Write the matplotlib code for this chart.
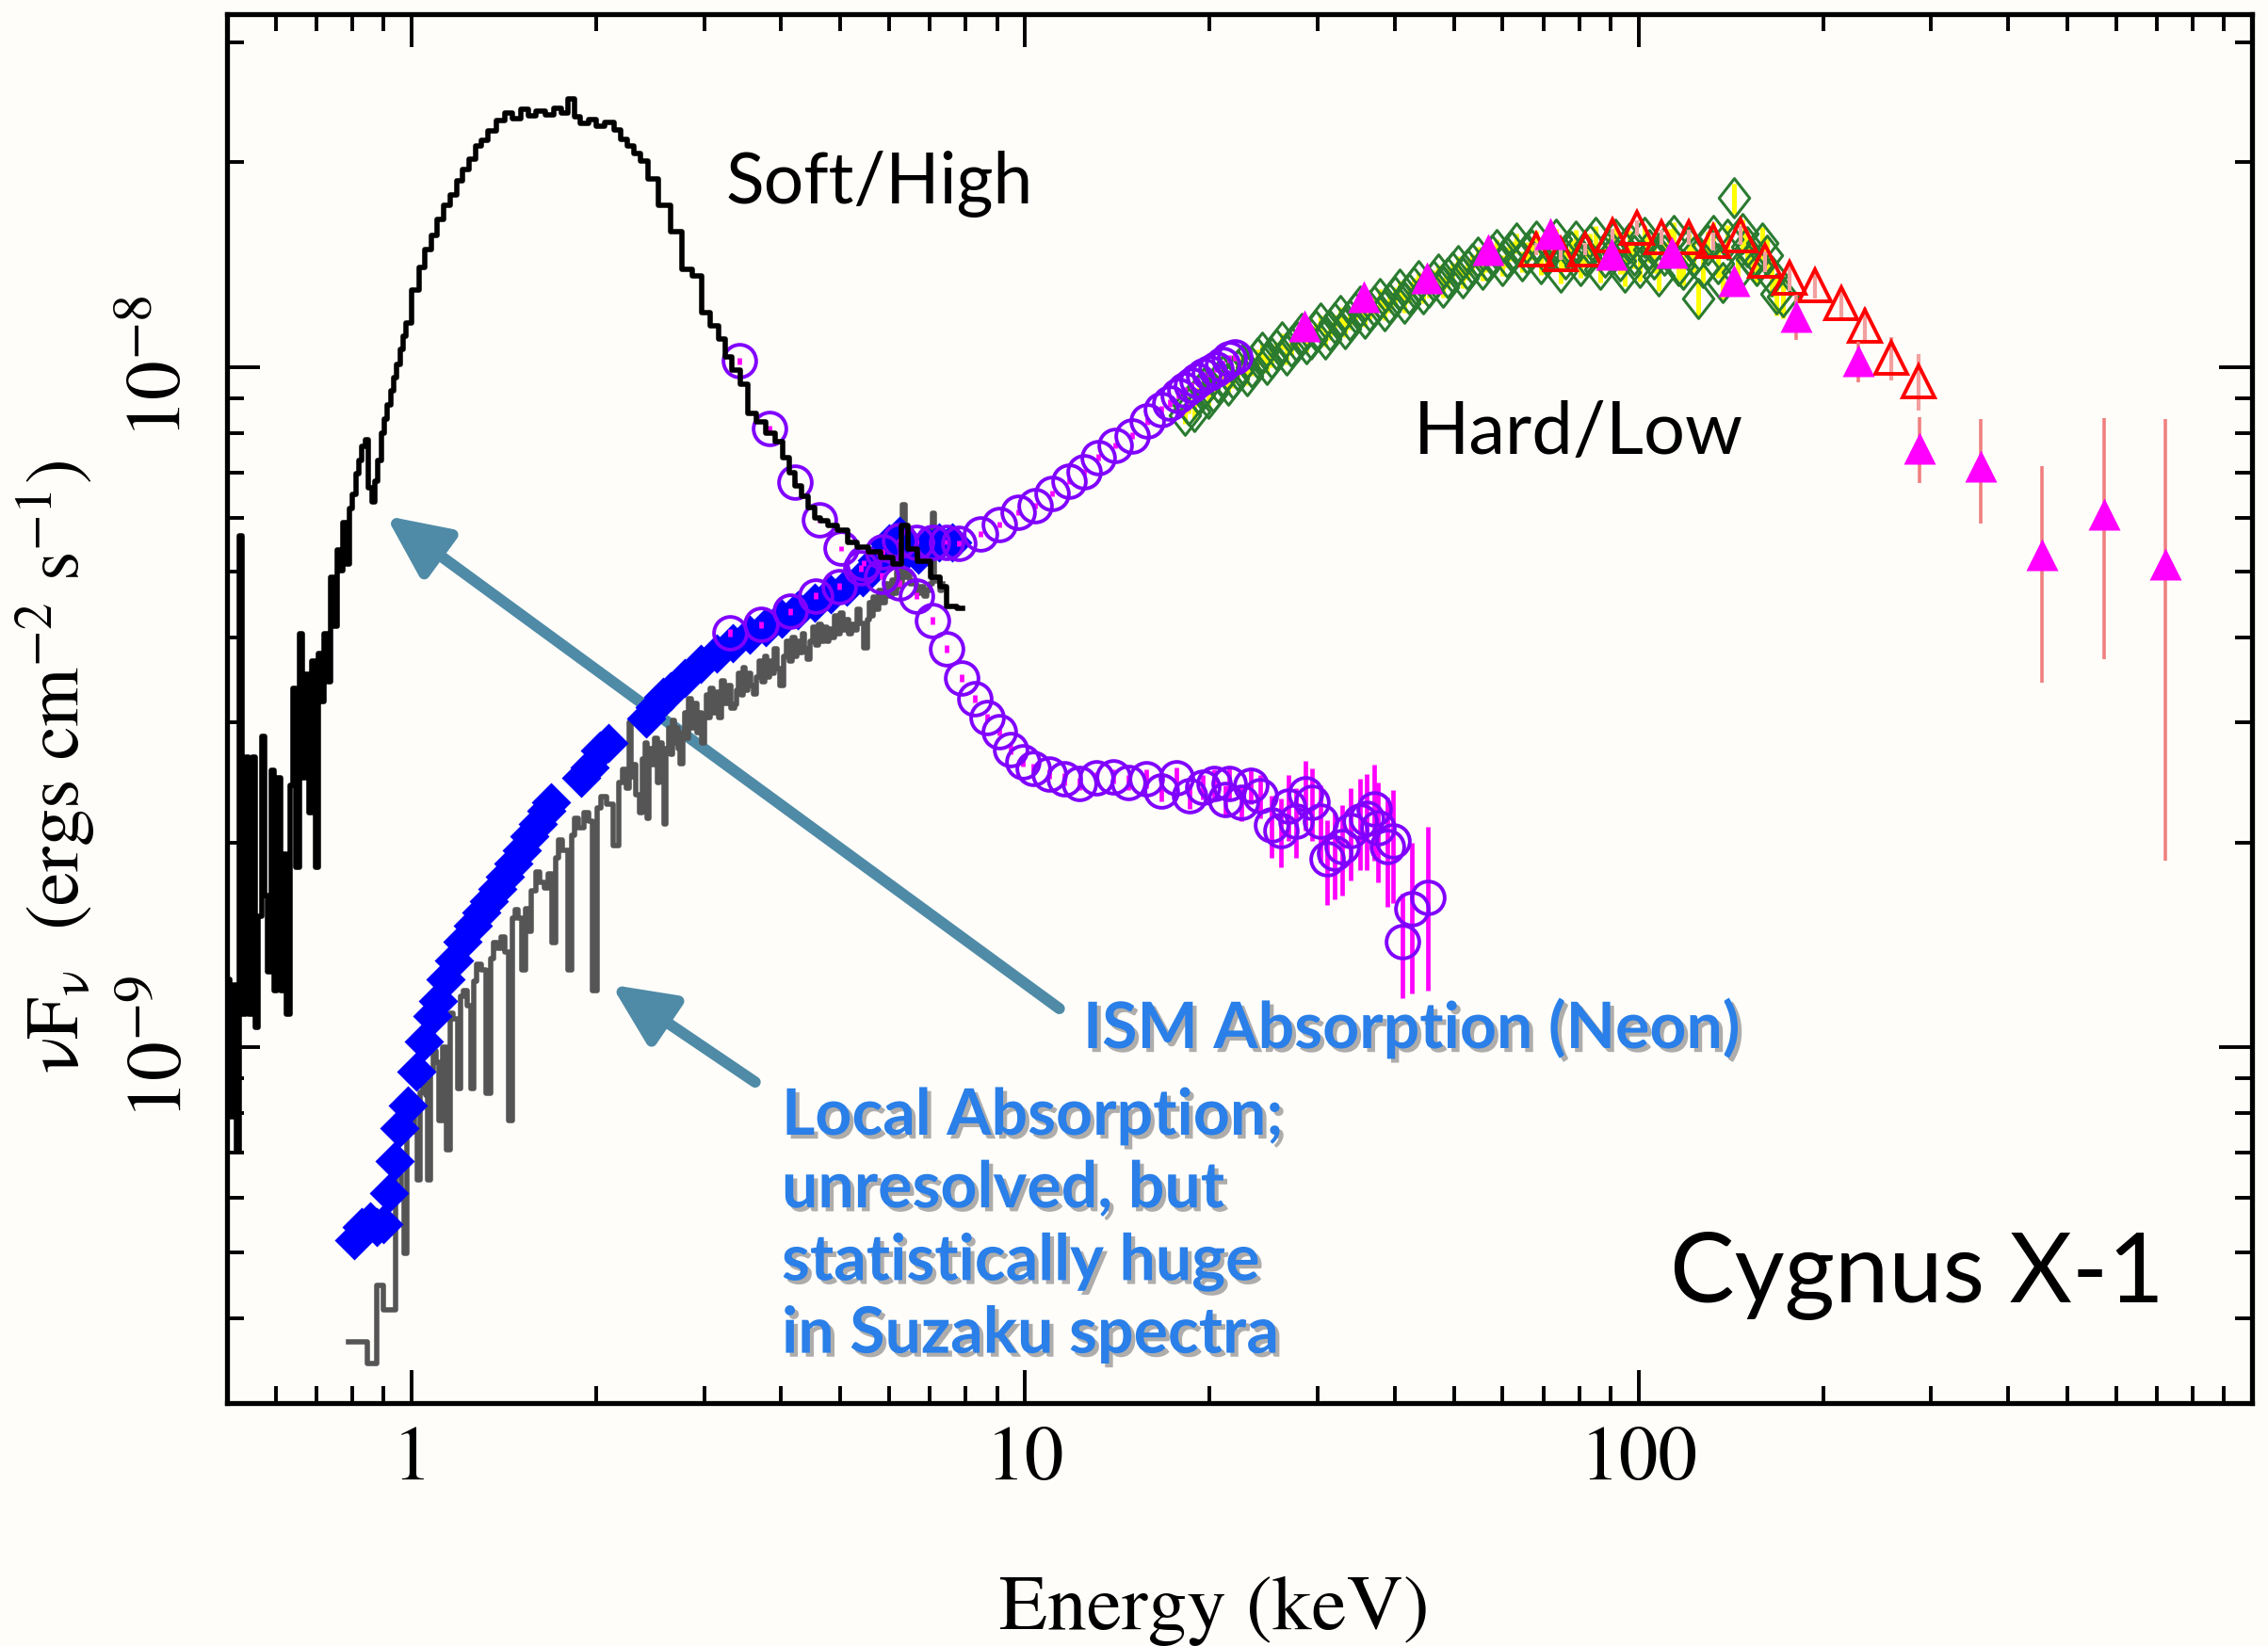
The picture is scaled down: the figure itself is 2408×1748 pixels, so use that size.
import matplotlib
matplotlib.use("Agg")
import matplotlib.pyplot as plt
import matplotlib.patheffects as pe
from matplotlib.path import Path
from matplotlib.ticker import LogLocator, NullFormatter
import numpy as np

plt.rcParams['mathtext.fontset'] = 'stix'
plt.rcParams['font.family'] = 'STIXGeneral'

SCALE = 1e-9  # all fluxes below are in units of 1e-9 erg cm^-2 s^-1

# ---------------- Soft/High state, step spectrum (black) ----------------
soft_step_E = [0.491, 0.497, 0.503, 0.509, 0.515, 0.521, 0.527, 0.533, 0.540, 0.546,
               0.553, 0.559, 0.566, 0.573, 0.579, 0.586, 0.593, 0.600, 0.607, 0.615,
               0.622, 0.629, 0.637, 0.644, 0.652, 0.660, 0.668, 0.675, 0.683, 0.692,
               0.700, 0.708, 0.716, 0.725, 0.734, 0.742, 0.751, 0.760, 0.769, 0.778,
               0.787, 0.797, 0.806, 0.816, 0.825, 0.835, 0.845, 0.855, 0.866, 0.876,
               0.886, 0.897, 0.907, 0.918, 0.929, 0.940, 0.951, 0.963, 0.974, 0.986,
               1.016, 1.040, 1.062, 1.088, 1.115, 1.143, 1.171, 1.197, 1.223, 1.254,
               1.285, 1.316, 1.349, 1.395, 1.440, 1.48, 1.53, 1.57, 1.62, 1.68,
               1.73, 1.78, 1.82, 1.86, 1.91, 1.97, 2.03, 2.10, 2.17, 2.22,
               2.28, 2.33, 2.39, 2.47, 2.58, 2.71, 2.81, 2.92, 3.02, 3.12,
               3.22, 3.28, 3.38, 3.48, 3.59, 3.71, 3.84, 3.98, 4.07, 4.17,
               4.27, 4.38, 4.49, 4.60, 4.69, 4.86, 5.04, 5.22, 5.43, 5.67,
               5.94, 6.23, 6.34, 6.53, 6.84, 7.18, 7.35, 7.57, 7.91]
soft_step_F = [1.63, 1.00, 1.26, 0.79, 1.235, 0.705, 5.64, 1.12, 2.67, 1.12,
               2.67, 1.07, 1.56, 2.86, 1.67, 1.29, 2.55, 1.21, 2.49, 1.21,
               1.92, 1.12, 2.43, 3.37, 1.84, 4.06, 2.49, 3.53, 2.21, 3.70,
               1.84, 3.79, 3.22, 4.06, 3.45, 4.90, 4.16, 5.38, 5.02, 5.91,
               5.13, 6.19, 6.49, 6.96, 7.29, 7.64, 7.82, 6.64, 6.34, 6.80,
               7.29, 8.00, 8.38, 8.79, 9.21, 9.65, 10.1, 10.6, 11.1, 11.6,
               12.96, 14.0, 14.86, 15.6, 16.5, 17.3, 17.9, 18.8, 19.5, 20.2,
               21.1, 21.5, 22.2, 23.0, 23.6, 23.2, 23.9, 23.4, 23.8, 23.5,
               24.0, 23.6, 24.8, 23.3, 22.8, 23.1, 22.6, 22.9, 22.3, 21.6,
               21.1, 20.6, 20.1, 18.9, 17.3, 15.8, 13.9, 13.6, 12.0, 11.5,
               11.0, 10.35, 9.9, 9.43, 8.55, 8.3, 7.99, 7.76, 7.35, 7.0,
               6.68, 6.45, 6.22, 6.0, 5.95, 5.85, 5.75, 5.52, 5.43, 5.35,
               5.24, 5.13, 5.85, 5.40, 5.18, 4.91, 4.76, 4.44, 4.42]

# ---------------- Hard/Low state, Suzaku step spectrum (grey) ----------------
hard_step_E = [0.788, 0.830, 0.864, 0.890, 0.909, 0.930, 0.956, 0.966, 0.976, 0.990,
               1.006, 1.017, 1.027, 1.038, 1.048, 1.058, 1.069, 1.080, 1.091, 1.103,
               1.114, 1.130, 1.148, 1.160, 1.180, 1.196, 1.210, 1.220, 1.240, 1.258,
               1.270, 1.284, 1.310, 1.338, 1.350, 1.365, 1.390, 1.407, 1.430, 1.451,
               1.466, 1.481, 1.500, 1.527, 1.540, 1.558, 1.580, 1.606, 1.630, 1.656,
               1.680, 1.707, 1.725, 1.742, 1.780, 1.815, 1.835, 1.852, 1.890, 1.929,
               1.960, 1.989, 2.020, 2.051, 2.100, 2.158,
               2.19, 2.225, 2.25, 2.27, 2.29, 2.31, 2.335, 2.364, 2.39, 2.413,
               2.43, 2.45, 2.475, 2.50, 2.525, 2.55, 2.57, 2.592, 2.61, 2.63,
               2.65, 2.672, 2.69, 2.71, 2.73, 2.754, 2.775, 2.80, 2.82, 2.84,
               2.87, 2.90, 2.93, 2.96, 2.988, 3.01, 3.03, 3.055, 3.081, 3.115,
               3.15, 3.18, 3.209, 3.25, 3.30, 3.34, 3.376, 3.40, 3.43, 3.455,
               3.481, 3.515, 3.55, 3.59, 3.626, 3.66, 3.70, 3.74, 3.776, 3.81,
               3.85, 3.885, 3.92, 3.965, 4.013, 4.055, 4.10, 4.145, 4.19, 4.23,
               4.266, 4.31, 4.35, 4.395, 4.443, 4.49, 4.53, 4.58, 4.628, 4.67,
               4.72, 4.77, 4.82, 4.87, 4.92, 4.97, 5.02, 5.07, 5.12, 5.175,
               5.23, 5.29, 5.35, 5.42, 5.50, 5.55, 5.60, 5.635, 5.67, 5.735,
               5.80, 5.87, 5.95, 6.02, 6.10, 6.15, 6.20, 6.27, 6.34, 6.40,
               6.45, 6.52, 6.60, 6.70, 6.80, 6.87, 6.95, 7.02, 7.09, 7.16,
               7.22, 7.29, 7.35]
hard_step_F = [0.369, 0.369, 0.343, 0.447, 0.411, 0.411, 0.650, 0.600, 0.498, 0.780,
               0.824, 0.750, 0.638, 0.860, 0.887, 0.850, 0.638, 0.920, 0.989, 0.950,
               0.780, 1.000, 0.706, 1.124, 1.100, 0.871, 1.190, 1.210, 1.150, 0.871,
               1.250, 1.326, 1.300, 0.855, 1.350, 1.426, 1.400, 1.452, 1.380, 0.780,
               1.550, 1.591, 1.550, 1.300, 1.600, 1.479, 1.700, 1.808, 1.750, 1.712,
               1.800, 1.426, 1.900, 2.018, 1.950, 1.301, 2.050, 2.171, 2.100, 2.211,
               2.150, 1.210, 2.250, 2.335, 2.280, 1.982,
               2.45, 2.56, 2.40, 3.00, 2.50, 2.60, 2.35, 2.21, 2.65, 2.80,
               2.17, 2.75, 2.60, 2.85, 2.45, 2.80, 2.60, 2.13, 2.75, 2.95,
               2.70, 3.02, 2.80, 2.95, 2.75, 2.61, 2.90, 3.10, 2.85, 3.25,
               2.95, 3.20, 2.90, 3.10, 2.80, 3.05, 3.30, 3.05, 3.37, 3.10,
               3.33, 3.05, 3.46, 3.20, 3.40, 3.15, 3.19, 3.35, 3.55, 3.30,
               3.62, 3.35, 3.55, 3.40, 3.31, 3.50, 3.70, 3.45, 3.76, 3.50,
               3.70, 3.55, 3.85, 3.60, 3.40, 3.75, 3.95, 3.70, 4.00, 3.75,
               3.95, 3.80, 4.05, 3.85, 3.72, 3.95, 4.15, 3.90, 4.19, 3.95,
               4.15, 3.95, 4.12, 4.00, 4.30, 4.05, 4.35, 4.10, 4.25, 4.05,
               4.19, 4.10, 4.40, 4.20, 3.87, 4.25, 4.50, 4.30, 4.59, 4.40,
               4.70, 4.50, 4.80, 4.60, 4.86, 4.65, 5.00, 4.75, 6.27, 4.90,
               5.00, 4.80, 4.85, 4.65, 4.75, 4.60, 4.70, 4.80, 6.10, 4.85,
               4.90, 4.70, 4.80]

# ---------------- Hard state, binned points (blue diamonds) ----------------
diam_E = [0.807, 0.829, 0.855, 0.876, 0.899, 0.918, 0.937, 0.956, 0.986, 1.016,
          1.048, 1.080, 1.102, 1.137, 1.172, 1.208, 1.258, 1.297, 1.338, 1.379,
          1.421, 1.466, 1.511, 1.557, 1.606, 1.656, 1.690, 1.890, 1.949, 2.030,
          2.093, 2.413, 2.488, 2.566, 2.645, 2.783, 2.958, 3.144, 3.342, 3.551,
          3.776, 4.013, 4.266, 4.535, 4.82, 5.12, 5.445, 5.73, 6.0, 6.23,
          6.45, 6.7, 6.95, 7.24, 7.6]
diam_F = [0.52, 0.545, 0.555, 0.545, 0.55, 0.61, 0.68, 0.76, 0.82, 0.92,
          1.02, 1.11, 1.17, 1.26, 1.34, 1.43, 1.51, 1.58, 1.64, 1.71,
          1.78, 1.86, 1.95, 2.04, 2.13, 2.23, 2.29, 2.49, 2.58, 2.73,
          2.80, 3.04, 3.16, 3.27, 3.34, 3.49, 3.66, 3.79, 3.93, 4.04,
          4.15, 4.27, 4.39, 4.51, 4.63, 4.76, 4.90, 5.2, 5.5, 5.65,
          5.4, 5.3, 5.45, 5.52, 5.52]

# ---------------- Hard state, open circles (purple) ----------------
hcirc_E = [3.30, 3.71, 4.14, 4.55, 4.98, 5.40, 5.85, 6.23, 6.65, 7.05,
           7.44, 7.81, 8.45, 9.08, 9.74, 10.38, 11.06, 11.78, 12.46, 13.16,
           14.02, 14.94, 15.79, 16.69, 17.2, 17.78, 18.2, 18.64, 19.1, 19.54,
           20.0, 20.5, 21.0, 21.49, 22.0]
hcirc_F = [4.07, 4.18, 4.37, 4.61, 4.76, 5.06, 5.35, 5.55, 5.53, 5.53,
           5.53, 5.50, 5.68, 5.87, 6.11, 6.26, 6.52, 6.79, 7.01, 7.36,
           7.67, 7.92, 8.32, 8.66, 8.85, 9.09, 9.25, 9.39, 9.55, 9.70,
           9.80, 9.94, 10.10, 10.27, 10.35]
hcirc_err = [0.05, 0.05, 0.05, 0.05, 0.05, 0.05, 0.05, 0.05, 0.05, 0.05,
             0.05, 0.05, 0.06, 0.06, 0.06, 0.06, 0.07, 0.07, 0.07, 0.08,
             0.08, 0.09, 0.09, 0.10, 0.10, 0.10, 0.10, 0.11, 0.11, 0.12,
             0.12, 0.12, 0.13, 0.13, 0.14]

# ---------------- Soft state, open circles (purple) ----------------
scirc_E = [3.42, 3.83, 4.21, 4.62, 5.02, 5.45, 5.84, 6.23, 6.65, 7.05,
           7.44, 7.87, 8.27, 8.67, 9.09, 9.47, 9.90, 10.3, 10.96, 11.59,
           12.26, 13.05, 13.9, 14.71, 15.77, 16.68, 17.64, 18.53, 19.46, 20.3,
           21.2, 21.5, 22.5, 23.35, 24.2, 25.2, 26.1, 26.9, 27.6, 28.6,
           29.4, 30.3, 31.1, 32.0, 32.9, 33.9, 35.1, 36.1, 37.1, 37.6,
           38.9, 39.8, 41.2, 42.7, 45.4]
scirc_F = [10.2, 8.12, 6.77, 5.96, 5.41, 5.15, 4.93, 4.81, 4.61, 4.24,
           3.85, 3.49, 3.25, 3.05, 2.91, 2.74, 2.63, 2.57, 2.52, 2.48,
           2.44, 2.49, 2.50, 2.45, 2.48, 2.38, 2.49, 2.34, 2.41, 2.44,
           2.31, 2.44, 2.29, 2.43, 2.34, 2.12, 2.08, 2.26, 2.15, 2.36,
           2.29, 2.15, 1.89, 1.93, 1.97, 2.08, 2.15, 2.17, 2.24, 2.10,
           1.97, 2.01, 1.43, 1.60, 1.66]
scirc_err = [0.10, 0.08, 0.07, 0.06, 0.05, 0.05, 0.05, 0.05, 0.05, 0.05,
             0.05, 0.04, 0.04, 0.04, 0.04, 0.04, 0.04, 0.04, 0.04, 0.05,
             0.05, 0.05, 0.06, 0.06, 0.08, 0.08, 0.09, 0.10, 0.10, 0.12,
             0.12, 0.13, 0.14, 0.15, 0.17, 0.22, 0.24, 0.25, 0.25, 0.28,
             0.28, 0.28, 0.27, 0.28, 0.30, 0.32, 0.33, 0.35, 0.36, 0.35,
             0.36, 0.38, 0.25, 0.40, 0.45]

# ---------------- Hard state, open thin diamonds (green) ----------------
gdiam_E = [18.2, 18.5, 18.85, 19.2, 19.55, 19.9, 20.25, 20.6, 21.0, 21.4,
           21.8, 22.2, 22.6, 23.0, 23.45, 23.9, 24.35, 24.8, 25.25, 25.7,
           26.2, 26.7, 27.2, 27.7, 28.2, 28.7, 29.25, 29.8, 30.35, 30.9,
           31.45, 32.0, 32.6, 33.2, 33.85, 34.5, 35.15, 35.8, 36.45, 37.1,
           37.8, 38.5, 39.25, 40.0, 40.75, 41.5, 42.25, 43.0, 43.8, 44.6,
           45.45, 46.3, 47.15, 48.0, 48.9, 49.8, 50.75, 51.7, 52.65, 53.6,
           54.6, 55.6, 56.65, 57.7, 58.8, 59.9, 61.0, 62.1, 63.3, 64.5,
           65.7, 66.9, 68.15, 69.4, 70.7, 72.0, 73.35, 74.7, 76.1, 77.5,
           78.95, 80.4, 81.9, 83.4, 84.95, 86.5, 88.15, 89.8, 91.5, 93.2,
           94.95, 96.7, 98.5, 100.3, 102.2, 104.1, 106.0, 108.0, 110.0, 112.0,
           114.1, 116.2, 118.4, 120.6, 122.8, 125.1, 127.4, 129.8, 132.2, 134.7,
           137.2, 139.7, 143.0, 145.0, 147.7, 150.4, 153.2, 156.0, 158.9, 161.9,
           164.9, 168.0, 172.0]
gdiam_F = [8.5, 8.8, 8.6, 9.1, 9.3, 9.0, 9.2, 9.5, 9.7, 9.4,
           9.6, 9.9, 10.1, 9.7, 10.0, 10.3, 10.5, 10.1, 10.3, 10.6,
           10.9, 10.4, 10.7, 10.9, 11.2, 10.8, 11.0, 11.3, 11.6, 11.0,
           11.3, 11.6, 11.9, 11.4, 11.7, 12.0, 12.3, 11.8, 12.1, 12.3,
           12.6, 12.1, 12.4, 12.7, 13.0, 12.4, 12.8, 13.1, 13.4, 12.8,
           13.1, 13.4, 13.7, 13.1, 13.5, 13.8, 14.1, 13.5, 13.9, 14.2,
           14.5, 13.9, 14.3, 14.6, 14.9, 14.1, 14.5, 14.8, 15.2, 14.3,
           14.7, 14.9, 15.3, 14.2, 14.6, 15.0, 15.4, 13.8, 14.4, 14.8,
           15.3, 14.1, 14.6, 15.1, 15.5, 13.9, 14.5, 14.9, 15.4, 14.3,
           13.8, 15.2, 14.6, 14.0, 15.5, 14.9, 14.4, 13.6, 14.6, 15.3,
           15.6, 14.1, 13.9, 15.0, 14.5, 12.6, 14.0, 15.1, 15.6, 14.2,
           13.3, 15.4, 17.7, 13.8, 15.7, 15.0, 14.4, 14.1, 15.2, 14.6,
           13.6, 12.8, 12.7]
gdiam_err = [0.25, 0.25, 0.25, 0.25, 0.25, 0.25, 0.25, 0.25, 0.25, 0.25,
             0.3, 0.3, 0.3, 0.3, 0.3, 0.3, 0.3, 0.3, 0.3, 0.3,
             0.3, 0.3, 0.3, 0.3, 0.3, 0.3, 0.3, 0.3, 0.3, 0.3,
             0.35, 0.35, 0.35, 0.35, 0.35, 0.35, 0.35, 0.35, 0.35, 0.35,
             0.4, 0.4, 0.4, 0.4, 0.4, 0.4, 0.4, 0.4, 0.4, 0.4,
             0.45, 0.45, 0.45, 0.45, 0.45, 0.45, 0.45, 0.45, 0.45, 0.45,
             0.5, 0.5, 0.5, 0.5, 0.5, 0.5, 0.5, 0.5, 0.5, 0.5,
             0.55, 0.55, 0.55, 0.55, 0.55, 0.55, 0.55, 0.55, 0.55, 0.55,
             0.6, 0.6, 0.6, 0.6, 0.6, 0.6, 0.6, 0.6, 0.6, 0.6,
             0.65, 0.65, 0.65, 0.65, 0.65, 0.65, 0.65, 0.65, 0.65, 0.65,
             0.7, 0.7, 0.7, 0.7, 0.7, 0.7, 0.7, 0.7, 0.7, 0.7,
             0.75, 0.75, 0.9, 0.8, 0.8, 0.8, 0.85, 0.85, 0.85, 0.85,
             0.9, 0.9, 0.9]

# ---------------- Hard state, open triangles (red) ----------------
rtri_E = [68.1, 74.6, 81.7, 90.7, 99.3, 108.8, 120.7, 132.3, 146.7, 160.7,
          176.0, 193.8, 213.9, 234.0, 258.0, 286.0]
rtri_F = [14.9, 14.66, 14.9, 15.6, 16.0, 15.5, 15.5, 15.3, 15.6, 14.3,
          13.5, 13.2, 12.4, 11.5, 10.3, 9.53]
rtri_err = [0.3, 0.3, 0.3, 0.35, 0.4, 0.4, 0.4, 0.45, 0.5, 0.5,
            0.55, 0.6, 0.65, 0.7, 0.75, 0.9]

# ---------------- Hard state, filled triangles (magenta) ----------------
mtri_E = [28.5, 35.7, 45.2, 56.8, 71.8, 90.2, 113.4, 143.3, 180.7, 228.4,
          287.0, 361.8, 454.9, 575.0, 722.6]
mtri_F = [11.5, 12.7, 13.5, 14.9, 15.7, 14.66, 14.73, 13.4, 11.87, 10.2,
          7.59, 7.14, 5.29, 6.07, 5.13]
mtri_err = [0.25, 0.25, 0.3, 0.3, 0.3, 0.3, 0.35, 0.45, 0.9, 0.7,
            0.85, 1.25, 1.85, 2.35, 3.25]

# ---------------- axes ticks ----------------
xtick_vals = [1, 10, 100]
xtick_labels = ['1', '10', '100']
ytick_vals = [1e-9, 1e-8]
ytick_labels = [r'$10^{-9}$', r'$10^{-8}$']

# arrows (head, tail) in data coordinates
ism_arrow = ((0.908, 6.04e-9), (11.37, 1.14e-9))
local_arrow = ((2.115, 1.236e-9), (3.63, 0.889e-9))

BG = '#fffdfa'
ARROW = '#4f8ba7'
BLUE_TXT = '#2a7fe8'

W, H = 2408, 1748
fig = plt.figure(figsize=(W / 200, H / 200), dpi=200)
fig.patch.set_facecolor(BG)
ax = fig.add_axes([241 / W, 1 - 1490 / H, (2391 - 241) / W, (1490 - 15) / H])
ax.set_facecolor(BG)
ax.set_xscale('log')
ax.set_yscale('log')


def s(v):
    return np.asarray(v, dtype=float) * SCALE


# grey Suzaku hard-state spectrum
ax.step(hard_step_E, s(hard_step_F), where='mid', color='#555555', lw=2.0, zorder=2)
# blue diamonds
ax.plot(diam_E, s(diam_F), ls='none', marker='D', ms=10.5, color='#0000ff',
        mec='none', zorder=3)
# green thin diamonds with yellow error bars
ax.errorbar(gdiam_E, s(gdiam_F), yerr=s(gdiam_err), fmt='none', ecolor='#ffff00',
            elinewidth=1.8, zorder=3.1)
gmark = Path([(0, 1), (0.78, 0), (0, -1), (-0.78, 0), (0, 1)],
             [Path.MOVETO, Path.LINETO, Path.LINETO, Path.LINETO, Path.CLOSEPOLY])
ax.plot(gdiam_E, s(gdiam_F), ls='none', marker=gmark, ms=15, mfc='none',
        mec='#2a7b30', mew=1.1, zorder=3.2)
# red open triangles
ax.errorbar(rtri_E, s(rtri_F), yerr=s(rtri_err), fmt='none', ecolor='#f2a0a0',
            elinewidth=1.5, zorder=3.4)
ax.plot(rtri_E, s(rtri_F), ls='none', marker='^', ms=12.5, mfc='none',
        mec='#ff0000', mew=1.4, zorder=3.5)
# purple circles (hard and soft)
for E, F, err in ((hcirc_E, hcirc_F, hcirc_err), (scirc_E, scirc_F, scirc_err)):
    ax.errorbar(E, s(F), yerr=s(err), fmt='none', ecolor='#ff00ff',
                elinewidth=1.7, zorder=4)
    ax.plot(E, s(F), ls='none', marker='o', ms=12.5, mfc='none', mec='#8000ff',
            mew=1.4, zorder=4.5)
# black soft-state spectrum
ax.step(soft_step_E, s(soft_step_F), where='mid', color='black', lw=2.0, zorder=5)
# magenta filled triangles
ax.errorbar(mtri_E, s(mtri_F), yerr=s(mtri_err), fmt='none', ecolor='#f08080',
            elinewidth=1.3, zorder=5.5)
ax.plot(mtri_E, s(mtri_F), ls='none', marker='^', ms=12.5, color='#ff00ff',
        mec='none', zorder=6)

# arrows
for head, tail in (ism_arrow, local_arrow):
    ax.annotate('', xy=head, xytext=tail, xycoords='data', textcoords='data',
                arrowprops=dict(arrowstyle='-|>,head_length=0.9,head_width=0.42',
                                mutation_scale=22, lw=4.3, color=ARROW,
                                shrinkA=0, shrinkB=0), zorder=1)

ax.set_xlim(0.5, 1000)
ax.set_ylim(3.0e-10, 3.3e-8)

ax.set_xticks(xtick_vals, xtick_labels)
ax.set_yticks(ytick_vals, ytick_labels)
ax.xaxis.set_minor_locator(LogLocator(base=10, subs=np.arange(2, 10), numticks=20))
ax.yaxis.set_minor_locator(LogLocator(base=10, subs=np.arange(2, 10), numticks=20))
ax.xaxis.set_minor_formatter(NullFormatter())
ax.yaxis.set_minor_formatter(NullFormatter())
ax.tick_params(which='both', direction='in', top=True, right=True, width=1.4)
ax.tick_params(which='major', length=12.6, labelsize=30)
ax.tick_params(which='minor', length=6.5)
ax.tick_params(axis='x', pad=9)
ax.tick_params(axis='y', pad=11, labelrotation=90)
for lab in ax.get_yticklabels():
    lab.set_va('center')
for sp in ax.spines.values():
    sp.set_linewidth(1.9)

# axis labels
fig.text(1289 / W, 1 - 1730 / H, 'Energy (keV)', ha='center', va='baseline', fontsize=30)
fig.text(59 / W, 1 - 814 / H, r'νF$_{\mathregular{ν}}$  (ergs cm$^{-2}$ s$^{-1}$)',
         rotation=90, ha='center', va='center', fontsize=29)

# annotations
fig.text(934 / W, 1 - 216 / H, 'Soft/High', ha='center', va='baseline',
         fontsize=27, family='Lato', color='black')
fig.text(1676 / W, 1 - 482 / H, 'Hard/Low', ha='center', va='baseline',
         fontsize=28, family='Lato', color='black')
fig.text(2035 / W, 1 - 1383 / H, 'Cygnus X-1', ha='center', va='baseline',
         fontsize=37, family='Lato', color='black')

shadow = [pe.withSimplePatchShadow(offset=(1.5, -1.5), shadow_rgbFace='#1a1a1a', alpha=0.35)]
fig.text(1150 / W, 1 - 1113 / H, 'ISM Absorption (Neon)', ha='left', va='baseline',
         fontsize=24.5, family='Lato', weight='bold', color=BLUE_TXT, path_effects=shadow)
local_lines = ['Local Absorption;', 'unresolved, but', 'statistically huge', 'in Suzaku spectra']
for i, line in enumerate(local_lines):
    fig.text(830 / W, 1 - (1205 + 77.2 * i) / H, line, ha='left', va='baseline',
             fontsize=24.5, family='Lato', weight='bold', color=BLUE_TXT,
             path_effects=shadow)

fig.savefig('out.png', dpi=200, facecolor=BG)
